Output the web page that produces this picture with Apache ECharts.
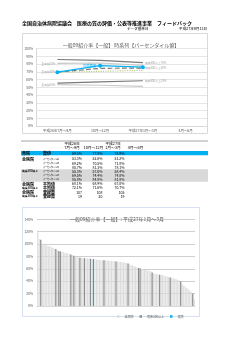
<!DOCTYPE html>
<html><head><meta charset="utf-8">
<script src="https://cdn.jsdelivr.net/npm/echarts@6/dist/echarts.min.js"></script>
<style>html,body{margin:0;padding:0;background:#fff;}#c{width:250px;height:353px;}</style>
</head><body><div id="c"></div>
<script>
const FONT = '"Noto Sans CJK JP", "Noto Sans", sans-serif';

// ---- Chart 1 : time series ----
const periods = ['平成26年7月～9月', '10月～12月', '平成27年1月～3月', '4月～6月'];
const ownValues = [69.5, 77.8, 75.9, null];
const allP25 = [53.3, 52.6, 51.2, null];
const allP50 = [69.2, 70.5, 71.8, null];
const allP75 = [80.7, 81.3, 78.1, null];
const bigP25 = [55.3, 57.0, 58.4, null];
const bigP50 = [69.5, 74.4, 74.8, null];
const bigP75 = [85.8, 84.8, 81.8, null];
const allMean = [68.1, 68.9, 67.0, null];
const bigMean = [72.1, 71.6, 70.7, null];
const allCount = [107, 108, 105, null];
const bigCount = [19, 20, 19, null];
const yTicks1 = [0, 100, 10];

// ---- Chart 2 : distribution (平成27年1月～3月) ----
const hospitalValues = [
  122, 108, 107, 100, 98.5, 98, 97.5, 97, 96, 95,
  94, 93, 92, 90, 89, 88, 87.5, 87, 86, 85.5,
  85, 84, 83, 82, 81, 80, 79.5, 78.5, 78, 77.8,
  77.5, 77.2, 77, 76.8, 76.5, 76.3, 76, 75.9, 75, 74.8,
  74.5, 74.3, 74, 74, 73.8, 73.5, 73.3, 73, 73, 72.8,
  72.5, 72.2, 72, 71.8, 71.5, 71.2, 71, 70.5, 70, 69.5,
  68.5, 67.5, 66.5, 65.5, 64.5, 63.5, 62.5, 61.5, 61, 60,
  59, 58.5, 58, 57.5, 57, 56, 54, 53, 52, 51.5,
  51, 50.5, 50, 49.5, 49, 48, 47.5, 47, 46, 45.5,
  45, 44, 43, 42, 41, 40, 35, 33, 31, 29,
  27, 25, 23, 20, 11
];
const bigHospitalIdx = [2, 12, 14, 15, 22, 24, 28, 31, 35, 44, 52, 60, 67, 68, 76, 81, 88, 95, 103];
const ownIdx = 37;
const yTicks2 = [0, 140, 20];

const tableHeadTop = ['平成26年', '', '平成27年', ''];
const tableHeadBottom = ['7月～9月', '10月～12月', '1月～3月', '4月～6月'];

const dash = v => (v == null ? '-' : v);
const pct = v => (v == null ? '' : v.toFixed(1) + '%');

const LIGHT = '#c8c8c8', DARK = '#7a7a7a', BLUE = '#00b0f0';

function lineSeries(sname, arr, color, dashType, labelAt, labelPos) {
  return {
    type: 'line', name: sname, xAxisIndex: 0, yAxisIndex: 0,
    data: arr.map((v, i) => i === labelAt ? {value: dash(v), label: {show: true, position: labelPos}} : dash(v)),
    symbol: 'circle', symbolSize: 0.01, showSymbol: true,
    lineStyle: {color: color, width: 1.2, type: dashType},
    itemStyle: {color: color},
    label: {show: false, formatter: sname, fontSize: 2.8, color: '#a6a6a6', fontFamily: FONT, distance: 2},
    z: 3
  };
}

// page / table graphics
const g = [];
g.push({type: 'text', x: 22, y: 23, style: {text: '全国自治体病院協議会　医療の質の評価・公表等推進事業　フィードバック', fontSize: 5, fontWeight: 'bold', fill: '#000', fontFamily: FONT, verticalAlign: 'middle'}});
g.push({type: 'text', x: 127, y: 29, style: {text: 'データ基準日', fontSize: 3.6, fill: '#000', fontFamily: FONT, verticalAlign: 'middle'}});
g.push({type: 'text', x: 207, y: 29, style: {text: '平成27年9月13日', fontSize: 3.6, fill: '#000', fontFamily: FONT, align: 'right', verticalAlign: 'middle'}});
g.push({type: 'rect', shape: {x: 22.5, y: 33.5, width: 185, height: 100}, style: {fill: 'none', stroke: '#d9d9d9', lineWidth: 1}, z: -10});
g.push({type: 'rect', shape: {x: 22.5, y: 207.5, width: 177, height: 109}, style: {fill: 'none', stroke: '#d6e0f0', lineWidth: 1}, z: -10});
g.push({type: 'rect', shape: {x: 21, y: 140.5, width: 187, height: 1}, style: {fill: '#a6a6a6'}});
g.push({type: 'rect', shape: {x: 21, y: 151, width: 187, height: 4.3}, style: {fill: BLUE}, z: -5});
g.push({type: 'rect', shape: {x: 21, y: 169.3, width: 187, height: 12.5}, style: {fill: '#d9d9d9'}, z: -5});
const colHead = [72, 93.5, 113, 135.5];
const colVal = [82, 102.5, 124.5, 144];
tableHeadTop.forEach((t, i) => t && g.push({type: 'text', x: colHead[i], y: 143.3, style: {text: t, fontSize: 3.8, fill: '#000', fontFamily: FONT, align: 'center', verticalAlign: 'middle'}}));
tableHeadBottom.forEach((t, i) => g.push({type: 'text', x: colHead[i], y: 147.8, style: {text: t, fontSize: 3.8, fill: '#000', fontFamily: FONT, align: 'center', verticalAlign: 'middle'}}));
const rows = [
  {y: 153.2, a: '貴院', b: '数値', v: ownValues, f: pct},
  {y: 159, a: '全病院', b: 'パーセンタイル25', v: allP25, f: pct},
  {y: 163.2, a: '', b: 'パーセンタイル50', v: allP50, f: pct},
  {y: 167.3, a: '', b: 'パーセンタイル75', v: allP75, f: pct},
  {y: 171.3, a: '病床300以上', b: 'パーセンタイル25', v: bigP25, f: pct},
  {y: 175.4, a: '', b: 'パーセンタイル50', v: bigP50, f: pct},
  {y: 179.5, a: '', b: 'パーセンタイル75', v: bigP75, f: pct},
  {y: 184, a: '全病院', b: '平均値', v: allMean, f: pct},
  {y: 188, a: '病床300以上', b: '平均値', v: bigMean, f: pct},
  {y: 192.2, a: '全病院', b: '登録数', v: allCount, f: v => (v == null ? '' : String(v))},
  {y: 196.3, a: '病床300以上', b: '登録数', v: bigCount, f: v => (v == null ? '' : String(v))}
];
rows.forEach(r => {
  if (r.a) g.push({type: 'text', x: 22, y: r.y, style: {text: r.a, fontSize: r.a.length > 3 ? 2.8 : 4, fontWeight: 'bold', fill: '#000', fontFamily: FONT, verticalAlign: 'middle'}});
  const small = r.b.length > 3;
  g.push({type: 'text', x: 43, y: r.y, style: {text: r.b, fontSize: small ? 2 : 4, fontWeight: small ? 'normal' : 'bold', fill: '#000', fontFamily: FONT, verticalAlign: 'middle'}});
  r.v.forEach((v, i) => {
    const s = r.f(v);
    if (s) g.push({type: 'text', x: colVal[i], y: r.y, style: {text: s, fontSize: 3.5, fill: '#000', fontFamily: FONT, align: 'right', verticalAlign: 'middle'}});
  });
});

const rankCats = hospitalValues.map((_, i) => String(i + 1));
const bigData = hospitalValues.map((v, i) => bigHospitalIdx.includes(i) ? v : '-');
const ownData = hospitalValues.map((v, i) => i === ownIdx ? v : '-');

const chart = echarts.init(document.getElementById('c'), null, {renderer: 'canvas'});
chart.setOption({
  animation: false,
  backgroundColor: '#fff',
  textStyle: {fontFamily: FONT},
  title: [
    {text: '一般09紹介率【一般】 時系列【パーセンタイル値】', left: 116, top: 37.5, textAlign: 'center',
     textStyle: {fontSize: 5, fontWeight: 'normal', color: '#595959', fontFamily: FONT}},
    {text: '一般09紹介率【一般】: 平成27年1月～3月', left: 112, top: 212, textAlign: 'center',
     textStyle: {fontSize: 5, fontWeight: 'normal', color: '#595959', fontFamily: FONT}}
  ],
  legend: {
    data: ['全病院', '病床300以上', '貴院'], left: 112, top: 310, textAlign: 'center',
    itemWidth: 2.5, itemHeight: 2.5, itemGap: 6, icon: 'rect',
    textStyle: {fontSize: 3, color: '#595959', fontFamily: FONT}
  },
  graphic: g,
  grid: [
    {left: 36, top: 48.5, width: 171, height: 77.5},
    {left: 37, top: 219.3, width: 158, height: 86.7}
  ],
  xAxis: [
    {type: 'category', gridIndex: 0, data: periods, boundaryGap: true,
     axisLine: {lineStyle: {color: '#d9d9d9'}}, axisTick: {show: false},
     axisLabel: {fontSize: 3.5, color: '#595959', margin: 3, interval: 0, fontFamily: FONT}},
    {type: 'category', gridIndex: 1, data: rankCats, boundaryGap: true,
     axisLine: {lineStyle: {color: '#d9d9d9'}}, axisTick: {show: false}, axisLabel: {show: false}}
  ],
  yAxis: [
    {type: 'value', gridIndex: 0, min: yTicks1[0], max: yTicks1[1], interval: yTicks1[2],
     axisLine: {show: true, lineStyle: {color: '#d9d9d9'}}, axisTick: {show: false},
     splitLine: {lineStyle: {color: '#e6e6e6', width: 1}},
     axisLabel: {formatter: '{value}%', fontSize: 3.3, color: '#595959', margin: 3, fontFamily: FONT}},
    {type: 'value', gridIndex: 1, min: yTicks2[0], max: yTicks2[1], interval: yTicks2[2],
     axisLine: {show: false}, axisTick: {show: false},
     splitLine: {lineStyle: {color: '#cfcfcf', width: 1}},
     axisLabel: {formatter: '{value}%', fontSize: 3.3, color: '#595959', margin: 4, fontFamily: FONT}}
  ],
  series: [
    lineSeries('全病院25%', allP25, LIGHT, 'solid', 0, 'left'),
    lineSeries('全病院50%', allP50, '#bfcb8a', 'dotted', 0, 'left'),
    lineSeries('全病院75%', allP75, LIGHT, 'solid', 0, 'left'),
    lineSeries('病床300以上25%', bigP25, DARK, 'solid', 2, 'right'),
    lineSeries('病床300以上50%', bigP50, DARK, 'dashed', 2, 'right'),
    lineSeries('病床300以上75%', bigP75, DARK, 'solid', 2, 'right'),
    {type: 'line', name: '貴院数値', xAxisIndex: 0, yAxisIndex: 0,
     data: ownValues.map((v, i) => i === 1 ? {value: dash(v), label: {show: true}} : dash(v)),
     symbol: 'circle', symbolSize: 4, lineStyle: {color: BLUE, width: 1.2}, itemStyle: {color: BLUE},
     label: {show: false, position: 'left', formatter: '貴院数値', fontSize: 3.3, color: BLUE, fontFamily: FONT, distance: 2},
     z: 5},
    {type: 'bar', name: '全病院', xAxisIndex: 1, yAxisIndex: 1, data: hospitalValues,
     itemStyle: {color: '#dcdcdc'}, barCategoryGap: '25%', barGap: '-100%'},
    {type: 'bar', name: '病床300以上', xAxisIndex: 1, yAxisIndex: 1, data: bigData,
     itemStyle: {color: '#8c8c8c'}, barGap: '-100%'},
    {type: 'bar', name: '貴院', xAxisIndex: 1, yAxisIndex: 1, data: ownData,
     itemStyle: {color: BLUE}, barGap: '-100%'}
  ]
});
</script>
</body></html>
